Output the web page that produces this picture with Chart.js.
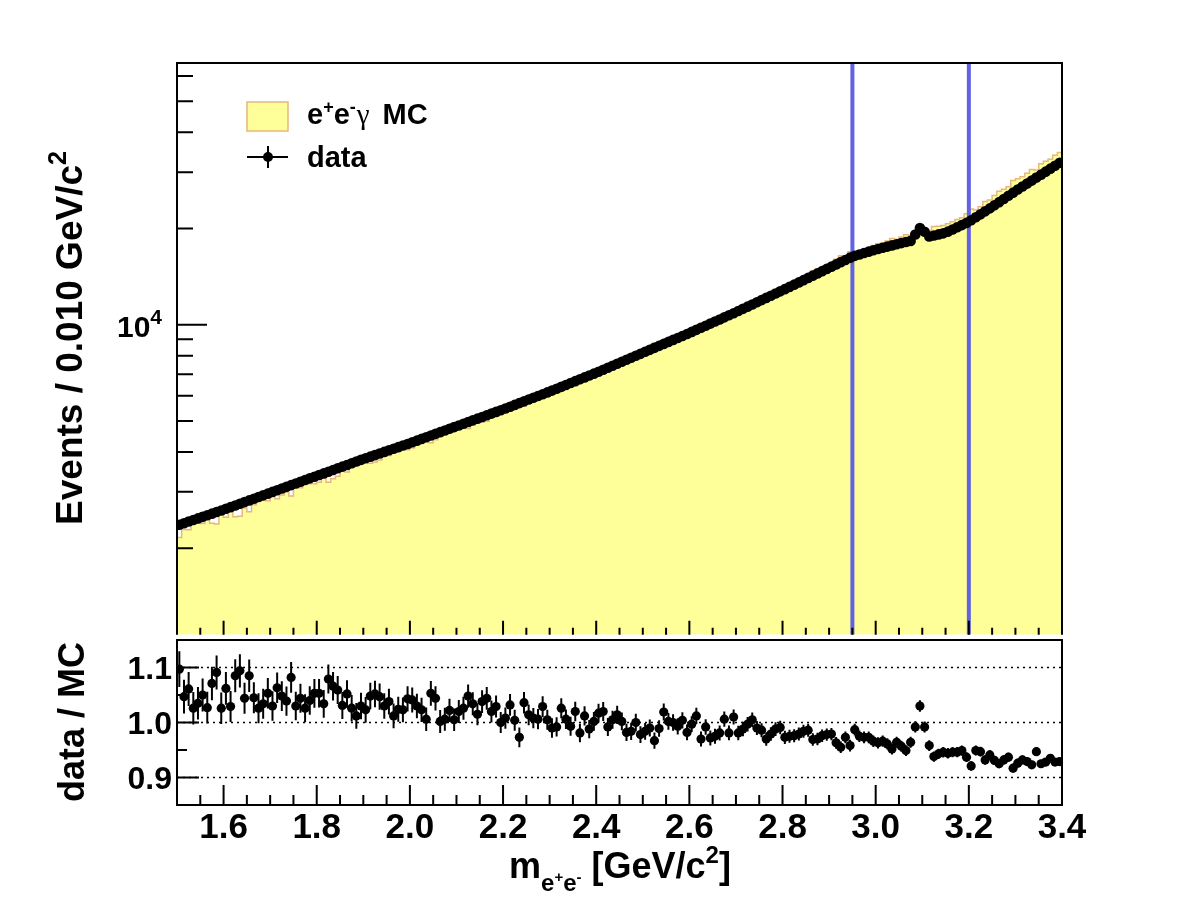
<!DOCTYPE html>
<html lang="en">
<head>
<meta charset="UTF-8">
<title>m(e+e-) data vs MC</title>
<script src="https://cdn.jsdelivr.net/npm/chart.js@4/dist/chart.umd.min.js"></script>
<style>
  html, body { margin: 0; padding: 0; background: #fff; }
  #wrap { position: relative; width: 1182px; height: 915px; overflow: hidden; }
  canvas { position: absolute; left: 0; }
  #top { top: 0; }
  #bot { top: 630px; }
</style>
</head>
<body>
<div id="wrap">
  <canvas id="top" width="1182" height="640"></canvas>
  <canvas id="bot" width="1182" height="285"></canvas>
</div>
<script>
// 190 bins of 0.010 GeV/c^2 from 1.50 to 3.40
const binLow = 1.50, binWidth = 0.010;

// data, events per bin
const dataCounts = [
  2367,2394,2422,2450,2478,2506,2535,2564,2594,2624,
  2655,2687,2720,2753,2787,2821,2855,2890,2925,2961,
  2999,3036,3073,3111,3149,3187,3226,3266,3306,3346,
  3386,3427,3469,3512,3555,3598,3642,3687,3732,3778,
  3822,3866,3910,3955,4001,4047,4093,4140,4188,4236,
  4287,4339,4393,4446,4501,4556,4612,4668,4725,4783,
  4841,4901,4961,5021,5083,5145,5208,5272,5336,5402,
  5470,5541,5613,5685,5759,5833,5909,5985,6063,6141,
  6222,6307,6393,6481,6569,6659,6750,6843,6936,7031,
  7130,7233,7337,7442,7550,7658,7769,7880,7994,8109,
  8227,8345,8465,8587,8711,8836,8964,9093,9224,9357,
  9495,9639,9784,9932,10082,10234,10389,10546,10705,10867,
  11037,11212,11390,11571,11755,11942,12132,12325,12521,12720,
  12921,13132,13346,13564,13786,14011,14240,14473,14710,14950,
  15194,15442,15694,15950,16211,16428,16594,16761,16930,17101,
  17259,17407,17557,17708,17860,18007,18148,18291,19153,20084,
  19530,18872,19020,19169,19319,19554,19865,20181,20502,20828,
  21220,21680,22151,22632,23123,23639,24185,24744,25316,25901,
  26483,27058,27646,28246,28859,29486,30126,30780,31448,32131
];

// e+e-gamma MC, events per bin
const mcCounts = [
  2158,2287,2283,2388,2394,2387,2468,2394,2378,2558,
  2500,2611,2507,2516,2670,2600,2732,2817,2829,2812,
  2912,2856,2932,2994,2910,3094,3090,3183,3179,3178,
  3216,3314,3215,3295,3357,3490,3462,3594,3688,3668,
  3736,3689,3717,3777,3884,3899,4044,4043,4094,4061,
  4118,4213,4294,4419,4274,4364,4603,4640,4623,4759,
  4746,4777,4734,4856,5008,4957,4989,5169,5186,5402,
  5427,5369,5591,5843,5559,5753,5862,5949,5892,6110,
  6285,6358,6231,6442,6615,6528,6881,6762,7020,7017,
  7011,7091,7396,7405,7446,7643,7911,8008,7994,8291,
  8361,8429,8754,8683,8549,8818,8964,9157,9187,9528,
  9524,9525,10087,10012,10372,10496,10590,10483,10912,10759,
  11251,11348,11424,11513,11874,12112,12507,12589,12673,12836,
  13280,13469,13674,13855,14010,14210,14696,14920,15072,15286,
  15520,16035,16434,16393,16922,16644,17020,17226,17400,17703,
  17922,18020,18270,18601,18527,18816,19123,18974,19307,19499,
  19688,19699,20277,20328,20422,20714,20999,21333,21604,22229,
  23040,22845,23391,24283,24573,25391,26146,26549,27018,28245,
  28600,29032,29759,30602,30474,31877,32463,32920,33888,34587
];

// data / MC per bin
const ratioVals = [
  1.097,1.047,1.061,1.026,1.035,1.050,1.027,1.071,1.091,1.026,
  1.062,1.029,1.085,1.094,1.044,1.085,1.045,1.026,1.034,1.053,
  1.030,1.063,1.048,1.039,1.082,1.030,1.044,1.026,1.040,1.053,
  1.053,1.034,1.079,1.066,1.059,1.031,1.052,1.026,1.012,1.030,
  1.023,1.048,1.052,1.047,1.030,1.038,1.012,1.024,1.023,1.043,
  1.041,1.030,1.023,1.006,1.053,1.044,1.002,1.006,1.022,1.005,
  1.020,1.026,1.048,1.034,1.015,1.038,1.044,1.020,1.029,1.000,
  1.008,1.032,1.004,0.973,1.036,1.014,1.008,1.006,1.029,1.005,
  0.990,0.992,1.026,1.006,0.993,1.020,0.981,1.012,0.988,1.002,
  1.017,1.020,0.992,1.005,1.014,1.002,0.982,0.984,1.000,0.978,
  0.984,0.990,0.967,0.989,1.019,1.002,1.000,0.993,1.004,0.982,
  0.997,1.012,0.970,0.992,0.972,0.975,0.981,1.006,0.981,1.010,
  0.981,0.988,0.997,1.005,0.990,0.986,0.970,0.979,0.988,0.991,
  0.973,0.975,0.976,0.979,0.984,0.986,0.969,0.970,0.976,0.978,
  0.979,0.963,0.955,0.973,0.958,0.987,0.975,0.973,0.973,0.966,
  0.963,0.966,0.961,0.952,0.964,0.957,0.949,0.964,0.992,1.030,
  0.992,0.958,0.938,0.943,0.946,0.944,0.946,0.946,0.949,0.937,
  0.921,0.949,0.947,0.932,0.941,0.931,0.925,0.932,0.937,0.917,
  0.926,0.932,0.929,0.923,0.947,0.925,0.928,0.935,0.928,0.929
];

// selection window drawn as vertical lines
const cutLines = [2.95, 3.20];

// axis ticks
const xMajor = [1.6, 1.8, 2.0, 2.2, 2.4, 2.6, 2.8, 3.0, 3.2, 3.4];
const xMajorLabels = ['1.6', '1.8', '2.0', '2.2', '2.4', '2.6', '2.8', '3.0', '3.2', '3.4'];
const yLogMajor = [10000];
const yLogMinor = [2000, 3000, 4000, 5000, 6000, 7000, 8000, 9000, 20000, 30000, 40000, 50000, 60000];
const ratioMajor = [0.9, 1.0, 1.1];
const ratioMajorLabels = ['0.9', '1.0', '1.1'];
const ratioMinor = [0.95, 1.05];

const FONT = '"Liberation Sans", Arial, Helvetica, sans-serif';
const YELLOW = '#ffff99';
const TAN = '#e6b87c';
const BLUE = '#6262e2';
const Y_MIN = 1072, Y_MAX = 65900;

const centers = dataCounts.map((_, i) => binLow + binWidth * (i + 0.5));
const mcSteps = mcCounts.map((v, i) => ({ x: binLow + binWidth * i, y: v }));
mcSteps.push({ x: binLow + binWidth * mcCounts.length, y: mcCounts[mcCounts.length - 1] });
const dataPts = dataCounts.map((v, i) => ({ x: centers[i], y: v }));
const ratioPts = ratioVals.map((v, i) => ({ x: centers[i], y: v }));

function rich(ctx, parts, x, y, align) {
  let w = 0;
  parts.forEach(p => { ctx.font = p.font; p.w = ctx.measureText(p.t).width + (p.dx || 0); w += p.w; });
  let cx = align === 'center' ? x - w / 2 : align === 'right' ? x - w : x;
  ctx.textAlign = 'left';
  ctx.textBaseline = 'alphabetic';
  parts.forEach(p => { ctx.font = p.font; ctx.fillText(p.t, cx + (p.dx || 0), y + (p.dy || 0)); cx += p.w; });
}
const B = s => 'bold ' + s + 'px ' + FONT;

function xTicks(ctx, xs, base, majLen, minLen) {
  ctx.beginPath();
  for (let k = 31; k <= 67; k++) {
    const px = xs.getPixelForValue(k * 0.05);
    const len = k % 4 === 0 ? majLen : minLen;
    ctx.moveTo(px, base); ctx.lineTo(px, base - len);
  }
  ctx.stroke();
}

const topDecor = {
  id: 'topDecor',
  afterDatasetsDraw(chart) {
    const { ctx, scales: { x, y } } = chart;
    ctx.save();
    ctx.strokeStyle = '#000'; ctx.lineWidth = 2;
    ctx.beginPath();
    dataCounts.forEach((v, i) => {
      const e = Math.sqrt(v), px = x.getPixelForValue(centers[i]);
      ctx.moveTo(px, y.getPixelForValue(v + e)); ctx.lineTo(px, y.getPixelForValue(v - e));
    });
    ctx.stroke();
    ctx.restore();
  },
  afterDraw(chart) {
    const { ctx, chartArea: a, scales: { x, y } } = chart;
    ctx.save();
    ctx.strokeStyle = '#000'; ctx.fillStyle = '#000';
    ctx.lineWidth = 2;
    ctx.beginPath();
    ctx.moveTo(a.left, a.bottom); ctx.lineTo(a.left, a.top);
    ctx.lineTo(a.right, a.top); ctx.lineTo(a.right, a.bottom);
    ctx.stroke();
    xTicks(ctx, x, a.bottom, 14, 7);
    ctx.beginPath();
    yLogMajor.forEach(v => { const py = y.getPixelForValue(v); ctx.moveTo(a.left, py); ctx.lineTo(a.left + 30, py); });
    yLogMinor.forEach(v => { const py = y.getPixelForValue(v); ctx.moveTo(a.left, py); ctx.lineTo(a.left + 16, py); });
    ctx.stroke();

    // 10^4 label
    yLogMajor.forEach(v => {
      const py = y.getPixelForValue(v);
      rich(ctx, [{ t: '10', font: B(30) }, { t: String(Math.round(Math.log10(v))), font: B(21), dy: -13 }], 162, py + 12, 'right');
    });

    // y title
    ctx.save();
    ctx.translate(82, 338);
    ctx.rotate(-Math.PI / 2);
    rich(ctx, [{ t: 'Events / 0.010 GeV/c', font: B(37) }, { t: '2', font: B(25), dy: -16 }], 0, 0, 'center');
    ctx.restore();

    // legend
    ctx.fillStyle = YELLOW; ctx.strokeStyle = TAN; ctx.lineWidth = 1.5;
    ctx.fillRect(247, 102, 41, 29); ctx.strokeRect(247, 102, 41, 29);
    ctx.strokeStyle = '#000'; ctx.fillStyle = '#000'; ctx.lineWidth = 2;
    ctx.beginPath();
    ctx.moveTo(247, 157); ctx.lineTo(288, 157);
    ctx.moveTo(268, 146); ctx.lineTo(268, 168);
    ctx.stroke();
    ctx.beginPath(); ctx.arc(268, 157, 5, 0, Math.PI * 2); ctx.fill();
    rich(ctx, [
      { t: 'e', font: B(29) }, { t: '+', font: B(18), dy: -11 },
      { t: 'e', font: B(29) }, { t: '-', font: B(18), dy: -11 },
      { t: 'γ', font: '29px "Liberation Serif", "DejaVu Serif", serif', dx: 1 },
      { t: 'MC', font: B(29), dx: 13 }
    ], 307, 124, 'left');
    rich(ctx, [{ t: 'data', font: B(29) }], 307, 167, 'left');
    ctx.restore();
  }
};

const botDecor = {
  id: 'botDecor',
  beforeDatasetsDraw(chart) {
    const { ctx, chartArea: a, scales: { x, y } } = chart;
    ctx.save();
    ctx.strokeStyle = '#000'; ctx.lineWidth = 1.5;
    ctx.setLineDash([2, 4]);
    ctx.beginPath();
    ratioMajor.forEach(v => { const py = y.getPixelForValue(v); ctx.moveTo(a.left, py); ctx.lineTo(a.right, py); });
    ctx.stroke();
    ctx.setLineDash([]);
    // statistical errors of data and MC
    ctx.lineWidth = 2;
    ctx.beginPath();
    ratioVals.forEach((r, i) => {
      const e = r * Math.sqrt(1 / dataCounts[i] + 1 / mcCounts[i]);
      const px = x.getPixelForValue(centers[i]);
      ctx.moveTo(px, y.getPixelForValue(r + e)); ctx.lineTo(px, y.getPixelForValue(r - e));
    });
    ctx.stroke();
    ctx.restore();
  },
  afterDraw(chart) {
    const { ctx, chartArea: a, scales: { x, y } } = chart;
    ctx.save();
    ctx.strokeStyle = '#000'; ctx.fillStyle = '#000'; ctx.lineWidth = 2;
    ctx.strokeRect(a.left, a.top, a.right - a.left, a.bottom - a.top);
    xTicks(ctx, x, a.bottom, 20, 10);
    ctx.beginPath();
    ratioMajor.forEach(v => { const py = y.getPixelForValue(v); ctx.moveTo(a.left, py); ctx.lineTo(a.left + 22, py); });
    ratioMinor.forEach(v => { const py = y.getPixelForValue(v); ctx.moveTo(a.left, py); ctx.lineTo(a.left + 10, py); });
    ctx.stroke();

    ratioMajor.forEach((v, i) => {
      rich(ctx, [{ t: ratioMajorLabels[i], font: B(32) }], 172, y.getPixelForValue(v) + 11.5, 'right');
    });
    xMajor.forEach((v, i) => {
      rich(ctx, [{ t: xMajorLabels[i], font: B(35) }], x.getPixelForValue(v), 208, 'center');
    });
    rich(ctx, [
      { t: 'm', font: B(36) },
      { t: 'e', font: B(24), dy: 13 }, { t: '+', font: B(15), dy: 4 },
      { t: 'e', font: B(24), dy: 13 }, { t: '-', font: B(15), dy: 4 },
      { t: ' [GeV/c', font: B(36) }, { t: '2', font: B(24), dy: -15 },
      { t: ']', font: B(36) }
    ], 620, 248, 'center');

    ctx.save();
    ctx.translate(84, 92);
    ctx.rotate(-Math.PI / 2);
    rich(ctx, [{ t: 'data / MC', font: B(36) }], 0, 0, 'center');
    ctx.restore();
    ctx.restore();
  }
};

const common = {
  responsive: false,
  animation: false,
  devicePixelRatio: 1,
  events: [],
  plugins: { legend: { display: false }, tooltip: { enabled: false } }
};

new Chart(document.getElementById('top'), {
  type: 'line',
  data: {
    datasets: [
      {
        label: 'data', data: dataPts, showLine: false, order: 0,
        pointRadius: 5.3, pointBackgroundColor: '#000', pointBorderWidth: 0
      },
      ...cutLines.map(c => ({
        label: 'cut', data: [{ x: c, y: Y_MIN }, { x: c, y: Y_MAX }], order: 1,
        borderColor: BLUE, borderWidth: 4, pointRadius: 0, fill: false
      })),
      {
        label: 'e+e-γ MC', data: mcSteps, order: 2, stepped: 'before',
        borderColor: TAN, borderWidth: 1.5, backgroundColor: YELLOW,
        fill: 'start', pointRadius: 0
      }
    ]
  },
  options: {
    ...common,
    layout: { padding: { left: 177, right: 120, top: 63, bottom: 1 } },
    scales: {
      x: { type: 'linear', min: 1.5, max: 3.4, display: false },
      y: { type: 'logarithmic', min: Y_MIN, max: Y_MAX, display: false }
    }
  },
  plugins: [topDecor]
});

new Chart(document.getElementById('bot'), {
  type: 'line',
  data: {
    datasets: [{
      label: 'data / MC', data: ratioPts, showLine: false,
      pointRadius: 4.6, pointBackgroundColor: '#000', pointBorderWidth: 0
    }]
  },
  options: {
    ...common,
    layout: { padding: { left: 177, right: 120, top: 10, bottom: 110 } },
    scales: {
      x: { type: 'linear', min: 1.5, max: 3.4, display: false },
      y: { type: 'linear', min: 0.85, max: 1.15, display: false }
    }
  },
  plugins: [botDecor]
});
</script>
</body>
</html>
